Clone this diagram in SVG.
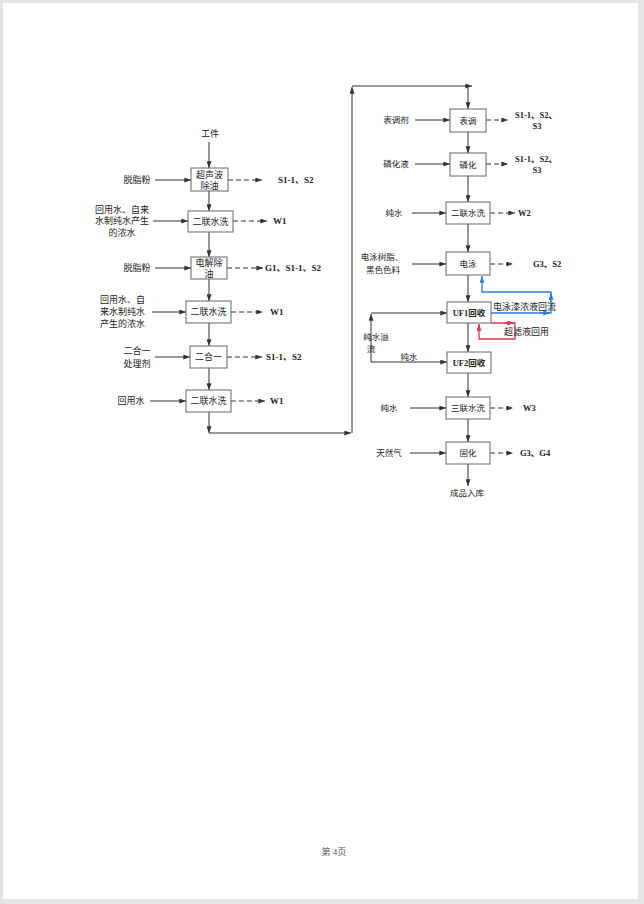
<svg xmlns="http://www.w3.org/2000/svg" width="644" height="904" viewBox="0 0 644 904">
<defs>
<marker id="ah" viewBox="0 0 8 6" refX="8" refY="3" markerWidth="7" markerHeight="5" markerUnits="userSpaceOnUse" orient="auto"><path d="M0,0 L8,3 L0,6 z" fill="#333"/></marker>
<marker id="ahb" viewBox="0 0 8 6" refX="8" refY="3" markerWidth="7" markerHeight="5" markerUnits="userSpaceOnUse" orient="auto"><path d="M0,0 L8,3 L0,6 z" fill="#2a7fd4"/></marker>
<marker id="ahr" viewBox="0 0 8 6" refX="8" refY="3" markerWidth="7" markerHeight="5" markerUnits="userSpaceOnUse" orient="auto"><path d="M0,0 L8,3 L0,6 z" fill="#e0304a"/></marker>
<style>
.bx{fill:#fff;stroke:#666;stroke-width:1}
.t{font-family:"Liberation Serif","Noto Sans CJK SC",serif;font-size:9px;fill:#222;text-anchor:middle;dominant-baseline:central}
.s{font-size:8.5px}
.l{text-anchor:start}
.b{font-weight:bold}
.ln{fill:none;stroke:#333;stroke-width:1;marker-end:url(#ah)}
.ds{fill:none;stroke:#333;stroke-width:1;stroke-dasharray:5 3;marker-end:url(#ah)}
.bl{fill:none;stroke:#2a7fd4;stroke-width:1.3}
.rd{fill:none;stroke:#e0304a;stroke-width:1.3}
</style>
</defs>
<rect x="0" y="0" width="644" height="904" fill="#e3e6e5"/>
<rect x="3" y="3" width="635" height="896" fill="#fff"/>

<g id="connectors">
<path class="ln" d="M209,142 V168"/>
<path class="ln" d="M155,180 H191"/>
<path class="ds" d="M228,180 H262"/>
<path class="ln" d="M209,191 V211"/>
<path class="ln" d="M153,221 H188"/>
<path class="ds" d="M233,221 H267"/>
<path class="ln" d="M209,232 V257"/>
<path class="ln" d="M155,268 H191"/>
<path class="ds" d="M227,268 H263"/>
<path class="ln" d="M209,279 V301"/>
<path class="ln" d="M152,312 H186"/>
<path class="ds" d="M231,312 H263"/>
<path class="ln" d="M209,323 V346"/>
<path class="ln" d="M155,357 H190"/>
<path class="ds" d="M227,357 H262"/>
<path class="ln" d="M209,368 V390"/>
<path class="ln" d="M150,401 H186"/>
<path class="ds" d="M231,401 H265"/>
<path class="ln" d="M209,412 V433"/>
<path class="ln" d="M209,433 H351"/>
<path class="ln" d="M352,433 V87"/>
<path class="ln" d="M352,86 H472"/>
<path class="ln" d="M468,86 V109"/>
<path class="ln" d="M415,120 H450"/>
<path class="ds" d="M486,120 H508"/>
<path class="ln" d="M468,132 V153"/>
<path class="ln" d="M415,164 H450"/>
<path class="ds" d="M486,164 H508"/>
<path class="ln" d="M468,176 V202"/>
<path class="ln" d="M412,213 H446"/>
<path class="ds" d="M490,213 H515"/>
<path class="ln" d="M468,224 V252"/>
<path class="ln" d="M412,264 H446"/>
<path class="ds" d="M490,264 H513"/>
<path class="ln" d="M468,275 V302"/>
<path class="ln" d="M468,323 V352"/>
<path class="ln" d="M371,362 V314"/>
<path class="ln" d="M371,313 H447"/>
<path class="ln" d="M371,362 H447"/>
<path class="ln" d="M468,373 V397"/>
<path class="ln" d="M410,408 H446"/>
<path class="ds" d="M490,408 H513"/>
<path class="ln" d="M468,419 V442"/>
<path class="ln" d="M410,453 H446"/>
<path class="ds" d="M490,453 H513"/>
<path class="ln" d="M468,464 V486"/>
<path class="bl" d="M491,313 H551 V292 H482 V276" marker-end="url(#ahb)"/>
<path class="bl" d="M540,313 H550" marker-end="url(#ahb)"/>
<path class="bl" d="M551,302 V293" marker-end="url(#ahb)"/>
<path class="rd" d="M491,323 H515 V339 H479 V324" marker-end="url(#ahr)"/>
<path class="rd" d="M505,323 H514" marker-end="url(#ahr)"/>
</g>

<g id="n-gongjian"><text class="t" x="210" y="134">工件</text></g>
<g id="n-chaosheng">
<rect class="bx" x="191" y="168" width="37" height="23"/>
<text class="t" x="209.5" y="174.5">超声波</text><text class="t" x="209.5" y="185.5">除油</text>
<text class="t" x="137" y="180">脱脂粉</text>
<text class="t l b" x="278" y="180">S1-1、S2</text>
</g>
<g id="n-erlian1">
<rect class="bx" x="188" y="211" width="45" height="21"/>
<text class="t" x="210.5" y="221.5">二联水洗</text>
<text class="t" x="122" y="209.5">回用水、自来</text><text class="t" x="122" y="221">水制纯水产生</text><text class="t" x="122" y="232.5">的浓水</text>
<text class="t l b" x="273" y="221">W1</text>
</g>
<g id="n-dianjie">
<rect class="bx" x="191" y="257" width="36" height="22"/>
<text class="t" x="209" y="262.5">电解除</text><text class="t" x="209" y="273.5">油</text>
<text class="t" x="137" y="268">脱脂粉</text>
<text class="t l b" x="265" y="268">G1、S1-1、S2</text>
</g>
<g id="n-erlian2">
<rect class="bx" x="186" y="301" width="45" height="22"/>
<text class="t" x="208.5" y="312">二联水洗</text>
<text class="t l" x="100" y="300">回用水、自</text><text class="t l" x="100" y="312">来水制纯水</text><text class="t l" x="100" y="324">产生的浓水</text>
<text class="t l b" x="270" y="312">W1</text>
</g>
<g id="n-erheyi">
<rect class="bx" x="190" y="346" width="37" height="22"/>
<text class="t" x="208.5" y="357">二合一</text>
<text class="t" x="137" y="350.5">二合一</text><text class="t" x="137" y="363.5">处理剂</text>
<text class="t l b" x="266" y="357">S1-1、S2</text>
</g>
<g id="n-erlian3">
<rect class="bx" x="186" y="390" width="45" height="22"/>
<text class="t" x="208.5" y="401">二联水洗</text>
<text class="t" x="131" y="401">回用水</text>
<text class="t l b" x="270" y="401">W1</text>
</g>

<g id="n-biaotiao">
<rect class="bx" x="450" y="109" width="36" height="23"/>
<text class="t s" x="468" y="120.5">表调</text>
<text class="t s" x="396" y="120">表调剂</text>
<text class="t s l b" x="515" y="114.5">S1-1、S2、</text><text class="t s b" x="537" y="125.5">S3</text>
</g>
<g id="n-linhua">
<rect class="bx" x="450" y="153" width="36" height="23"/>
<text class="t s" x="468" y="164.5">磷化</text>
<text class="t s" x="396" y="164">磷化液</text>
<text class="t s l b" x="515" y="158.5">S1-1、S2、</text><text class="t s b" x="537" y="170">S3</text>
</g>
<g id="n-erlian4">
<rect class="bx" x="446" y="202" width="44" height="22"/>
<text class="t s" x="468" y="213">二联水洗</text>
<text class="t s" x="394" y="213">纯水</text>
<text class="t s l b" x="518" y="213">W2</text>
</g>
<g id="n-dianyong">
<rect class="bx" x="446" y="252" width="44" height="23"/>
<text class="t s" x="468" y="263.5">电泳</text>
<text class="t s" x="382" y="257">电泳树脂、</text><text class="t s" x="383" y="269.5">黑色色料</text>
<text class="t s l b" x="533" y="264">G3、S2</text>
</g>
<g id="n-uf1">
<rect class="bx" x="447" y="302" width="44" height="21"/>
<text class="t s b" x="469" y="312.5">UF1回收</text>
<text class="t l" x="493" y="307">电泳漆浓液回流</text>
<text class="t l" x="504" y="332">超滤液回用</text>
</g>
<g id="n-uf2">
<rect class="bx" x="447" y="352" width="44" height="21"/>
<text class="t s b" x="469" y="362.5">UF2回收</text>
<text class="t s" x="376" y="337">纯水溢</text><text class="t s" x="371" y="349">流</text>
<text class="t s" x="409" y="356.5">纯水</text>
</g>
<g id="n-sanlian">
<rect class="bx" x="446" y="397" width="44" height="22"/>
<text class="t s" x="468" y="408">三联水洗</text>
<text class="t s" x="389" y="408">纯水</text>
<text class="t s l b" x="523" y="408">W3</text>
</g>
<g id="n-guhua">
<rect class="bx" x="446" y="442" width="44" height="22"/>
<text class="t s" x="468" y="453">固化</text>
<text class="t s" x="389" y="453">天然气</text>
<text class="t s l b" x="520" y="453">G3、G4</text>
</g>
<g id="n-chengpin"><text class="t s" x="467" y="493">成品入库</text></g>

<text class="t" x="334" y="852" style="fill:#555">第 4页</text>
</svg>
